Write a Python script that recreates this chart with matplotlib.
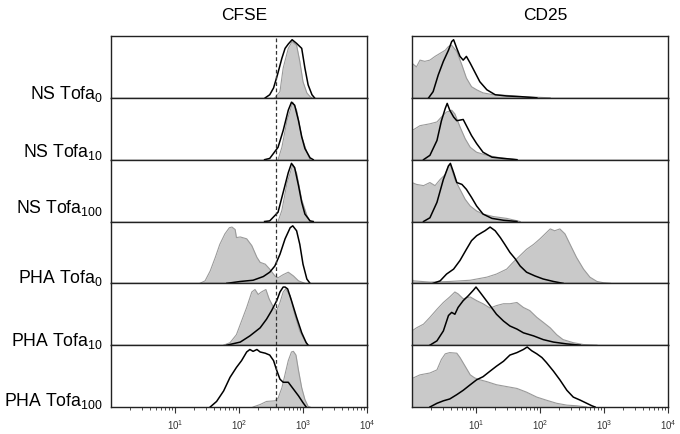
import numpy as np
import matplotlib
matplotlib.use('Agg')
import matplotlib.pyplot as plt
from matplotlib.ticker import LogLocator, NullFormatter, LogFormatterSciNotation

plt.rcParams['font.family'] = ['Liberation Sans', 'DejaVu Sans']
plt.rcParams['mathtext.default'] = 'regular'

# %% data: histogram outlines, x as log10(intensity), h as fraction of row height
row_labels = ['NS Tofa$_{0}$', 'NS Tofa$_{10}$', 'NS Tofa$_{100}$',
              'PHA Tofa$_{0}$', 'PHA Tofa$_{10}$', 'PHA Tofa$_{100}$']
panel_titles = ['CFSE', 'CD25']
tick_values = [10, 100, 1000, 10000]
cfse_gate = 380

cfse_gray_x = [
    [2.56, 2.64, 2.69, 2.77, 2.83, 2.90, 2.95, 3.00, 3.06, 3.11, 3.14],
    [2.61, 2.67, 2.75, 2.84, 2.90, 2.98, 3.06, 3.11],
    [2.61, 2.67, 2.75, 2.84, 2.90, 2.98, 3.06, 3.11],
    [1.39, 1.47, 1.55, 1.63, 1.70, 1.78, 1.85, 1.89, 1.94, 1.96, 2.02, 2.12, 2.20, 2.28,
     2.33, 2.41, 2.48, 2.56, 2.61, 2.69, 2.77, 2.85, 2.93, 3.03],
    [1.76, 1.86, 1.96, 2.04, 2.12, 2.20, 2.25, 2.30, 2.35, 2.42, 2.47, 2.54, 2.59, 2.64,
     2.69, 2.73, 2.80, 2.87, 2.95, 3.03, 3.08],
    [2.22, 2.33, 2.43, 2.56, 2.61, 2.67, 2.72, 2.77, 2.82, 2.85, 2.89, 2.93, 2.98, 3.03, 3.08, 3.11],
]
cfse_gray_h = [
    [0, 0.10, 0.48, 0.80, 0.91, 0.85, 0.59, 0.26, 0.08, 0.02, 0],
    [0, 0.20, 0.63, 0.93, 0.80, 0.37, 0.12, 0],
    [0, 0.18, 0.62, 0.92, 0.78, 0.35, 0.10, 0],
    [0, 0.04, 0.20, 0.42, 0.63, 0.80, 0.90, 0.91, 0.87, 0.74, 0.75, 0.72, 0.61, 0.42,
     0.34, 0.31, 0.23, 0.12, 0.09, 0.14, 0.18, 0.12, 0.04, 0],
    [0, 0.04, 0.17, 0.39, 0.61, 0.86, 0.90, 0.82, 0.86, 0.90, 0.75, 0.61, 0.56, 0.69,
     0.86, 0.91, 0.80, 0.50, 0.23, 0.07, 0],
    [0, 0.04, 0.09, 0.10, 0.14, 0.31, 0.53, 0.75, 0.89, 0.90, 0.84, 0.59, 0.31, 0.12, 0.01, 0],
]
cfse_black_x = [
    [2.41, 2.48, 2.54, 2.60, 2.67, 2.72, 2.77, 2.83, 2.90, 2.98, 3.03, 3.08, 3.14, 3.18],
    [2.40, 2.48, 2.61, 2.69, 2.77, 2.82, 2.87, 2.93, 2.98, 3.03, 3.11, 3.16],
    [2.40, 2.48, 2.61, 2.69, 2.77, 2.82, 2.87, 2.93, 2.98, 3.03, 3.11, 3.16],
    [1.81, 2.02, 2.22, 2.38, 2.48, 2.56, 2.64, 2.72, 2.80, 2.84, 2.90, 2.95, 3.00, 3.06, 3.11],
    [1.81, 2.02, 2.17, 2.33, 2.43, 2.51, 2.59, 2.64, 2.69, 2.72, 2.76, 2.82, 2.90, 2.98, 3.05, 3.08],
    [1.55, 1.65, 1.76, 1.86, 1.96, 2.04, 2.12, 2.17, 2.22, 2.28, 2.33, 2.41, 2.48, 2.54,
     2.59, 2.64, 2.69, 2.77, 2.85, 2.93, 3.00, 3.05],
]
cfse_black_h = [
    [0, 0.05, 0.16, 0.37, 0.64, 0.80, 0.87, 0.94, 0.88, 0.80, 0.48, 0.21, 0.05, 0],
    [0, 0.02, 0.20, 0.47, 0.80, 0.93, 0.88, 0.63, 0.37, 0.18, 0.03, 0],
    [0, 0.01, 0.15, 0.47, 0.79, 0.94, 0.87, 0.58, 0.31, 0.12, 0.01, 0],
    [0, 0.03, 0.05, 0.11, 0.18, 0.28, 0.47, 0.72, 0.90, 0.93, 0.85, 0.63, 0.31, 0.07, 0],
    [0, 0.05, 0.15, 0.28, 0.42, 0.56, 0.72, 0.86, 0.94, 0.94, 0.91, 0.72, 0.45, 0.20, 0.04, 0],
    [0, 0.09, 0.26, 0.48, 0.64, 0.75, 0.89, 0.93, 0.90, 0.93, 0.89, 0.87, 0.84, 0.75,
     0.59, 0.45, 0.40, 0.40, 0.29, 0.18, 0.07, 0],
]

cd25_gray_x = [
    [0.0, 0.07, 0.125, 0.20, 0.28, 0.36, 0.44, 0.52, 0.57, 0.62, 0.70, 0.78, 0.85, 0.93,
     1.01, 1.11, 1.27, 1.48, 1.69, 1.95, 2.16],
    [0.0, 0.125, 0.28, 0.39, 0.46, 0.54, 0.62, 0.67, 0.75, 0.83, 0.91, 1.01, 1.17, 1.38, 1.64],
    [0.0, 0.07, 0.18, 0.28, 0.36, 0.44, 0.52, 0.57, 0.60, 0.67, 0.75, 0.83, 0.91, 1.01,
     1.11, 1.27, 1.48, 1.69],
    [0.0, 0.02, 0.28, 0.59, 0.91, 1.17, 1.32, 1.48, 1.58, 1.69, 1.79, 1.90, 2.00, 2.10,
     2.16, 2.23, 2.31, 2.39, 2.47, 2.57, 2.68, 2.78, 2.89, 2.99, 3.10],
    [0.0, 0.07, 0.18, 0.28, 0.39, 0.49, 0.59, 0.67, 0.72, 0.80, 0.91, 1.01, 1.11, 1.22,
     1.32, 1.43, 1.53, 1.64, 1.74, 1.84, 1.95, 2.05, 2.16, 2.26, 2.36, 2.52, 2.68, 2.89],
    [0.0, 0.02, 0.125, 0.28, 0.39, 0.46, 0.52, 0.59, 0.70, 0.75, 0.83, 0.91, 0.98, 1.06,
     1.17, 1.32, 1.48, 1.64, 1.79, 1.95, 2.10, 2.26, 2.42, 2.57, 2.73],
]
cd25_gray_h = [
    [0.56, 0.50, 0.61, 0.59, 0.61, 0.67, 0.72, 0.77, 0.83, 0.85, 0.75, 0.53, 0.32, 0.18,
     0.13, 0.08, 0.05, 0.04, 0.02, 0.01, 0],
    [0.47, 0.55, 0.58, 0.61, 0.69, 0.77, 0.80, 0.74, 0.53, 0.34, 0.20, 0.12, 0.07, 0.03, 0],
    [0.63, 0.60, 0.58, 0.63, 0.58, 0.68, 0.76, 0.90, 0.92, 0.68, 0.52, 0.36, 0.25, 0.17,
     0.12, 0.08, 0.05, 0],
    [0.07, 0.04, 0.02, 0.03, 0.05, 0.10, 0.15, 0.23, 0.34, 0.45, 0.55, 0.63, 0.72, 0.82,
     0.88, 0.85, 0.88, 0.80, 0.63, 0.42, 0.23, 0.10, 0.03, 0.01, 0],
    [0.23, 0.28, 0.34, 0.45, 0.58, 0.69, 0.78, 0.86, 0.83, 0.75, 0.78, 0.72, 0.67, 0.60,
     0.64, 0.67, 0.67, 0.69, 0.61, 0.56, 0.45, 0.37, 0.28, 0.17, 0.09, 0.04, 0.01, 0],
    [0.47, 0.47, 0.52, 0.55, 0.60, 0.77, 0.86, 0.88, 0.87, 0.80, 0.66, 0.52, 0.47, 0.44,
     0.41, 0.36, 0.33, 0.30, 0.24, 0.16, 0.11, 0.06, 0.03, 0.02, 0],
]
cd25_black_x = [
    [0.26, 0.33, 0.41, 0.49, 0.57, 0.62, 0.65, 0.70, 0.75, 0.80, 0.85, 0.91, 0.98, 1.06,
     1.17, 1.30, 1.48, 1.69, 1.95],
    [0.18, 0.28, 0.39, 0.46, 0.52, 0.55, 0.59, 0.65, 0.70, 0.80, 0.85, 0.93, 1.01, 1.11,
     1.25, 1.43, 1.64],
    [0.18, 0.28, 0.39, 0.49, 0.57, 0.60, 0.65, 0.70, 0.78, 0.85, 0.93, 1.01, 1.11, 1.25, 1.43, 1.64],
    [0.33, 0.44, 0.54, 0.65, 0.75, 0.85, 0.93, 1.01, 1.09, 1.14, 1.22, 1.30, 1.38, 1.45,
     1.53, 1.61, 1.69, 1.79, 1.92, 2.05, 2.21, 2.36],
    [0.28, 0.39, 0.49, 0.57, 0.62, 0.67, 0.72, 0.80, 0.88, 0.96, 1.00, 1.06, 1.14, 1.22,
     1.32, 1.43, 1.53, 1.64, 1.74, 1.90, 2.05, 2.21, 2.42, 2.63],
    [0.28, 0.39, 0.49, 0.59, 0.70, 0.80, 0.91, 1.01, 1.11, 1.22, 1.32, 1.43, 1.53, 1.64,
     1.74, 1.80, 1.87, 1.95, 2.03, 2.10, 2.21, 2.31, 2.42, 2.52, 2.63, 2.73, 2.81, 2.86],
]
cd25_black_h = [
    [0, 0.10, 0.37, 0.59, 0.77, 0.91, 0.94, 0.80, 0.67, 0.61, 0.67, 0.56, 0.42, 0.26,
     0.13, 0.05, 0.03, 0.02, 0],
    [0, 0.07, 0.31, 0.63, 0.83, 0.91, 0.80, 0.69, 0.63, 0.65, 0.55, 0.39, 0.26, 0.12,
     0.04, 0.02, 0],
    [0, 0.06, 0.31, 0.68, 0.90, 0.94, 0.79, 0.63, 0.60, 0.52, 0.39, 0.25, 0.12, 0.05, 0.02, 0],
    [0, 0.04, 0.15, 0.23, 0.37, 0.55, 0.69, 0.77, 0.82, 0.85, 0.91, 0.85, 0.74, 0.63,
     0.50, 0.40, 0.28, 0.18, 0.12, 0.07, 0.03, 0],
    [0, 0.07, 0.23, 0.48, 0.53, 0.50, 0.61, 0.72, 0.80, 0.89, 0.94, 0.86, 0.75, 0.64,
     0.50, 0.39, 0.31, 0.26, 0.20, 0.15, 0.09, 0.05, 0.02, 0],
    [0, 0.06, 0.10, 0.13, 0.20, 0.27, 0.36, 0.44, 0.49, 0.58, 0.66, 0.74, 0.84, 0.88,
     0.93, 0.97, 0.91, 0.86, 0.80, 0.72, 0.58, 0.44, 0.27, 0.16, 0.11, 0.06, 0.02, 0],
]

# %% layout (pixels of a 680x435 figure)
W, H = 680, 435
fig = plt.figure(figsize=(6.8, 4.35), dpi=100)
panel_left = [111, 412]
panel_width = 256
top, bottom = 37, 408
n = len(row_labels)
row_h = (bottom - top) / n
label_baseline = [99, 157, 213, 283, 346, 406]

panels = [(cfse_gray_x, cfse_gray_h, cfse_black_x, cfse_black_h),
          (cd25_gray_x, cd25_gray_h, cd25_black_x, cd25_black_h)]

for p, (gx, gh, bx, bh) in enumerate(panels):
    for i in range(n):
        ax = fig.add_axes([panel_left[p] / W, 1 - (top + (i + 1) * row_h) / H,
                           panel_width / W, row_h / H])
        ax.set_xscale('log')
        ax.set_xlim(1, 1e4)
        ax.set_ylim(0, 1)
        x = 10 ** np.array(gx[i])
        ax.fill_between(x, gh[i], 0, color='#c9c9c9', lw=0, zorder=1)
        ax.plot(x, gh[i], color='#9a9a9a', lw=0.8, zorder=2)
        ax.plot(10 ** np.array(bx[i]), bh[i], color='black', lw=1.1, zorder=3)
        if p == 0:
            ax.axvline(cfse_gate, color='#333333', lw=0.9, ls=(0, (3, 2)), zorder=4)
        for s in ax.spines.values():
            s.set_linewidth(1.0)
            s.set_color('#222222')
        ax.set_yticks([])
        if i < n - 1:
            ax.tick_params(axis='x', which='both', bottom=False, labelbottom=False)
        else:
            ax.set_xticks(tick_values)
            ax.xaxis.set_major_formatter(LogFormatterSciNotation())
            ax.xaxis.set_minor_locator(LogLocator(base=10, subs=np.arange(2, 10), numticks=20))
            ax.xaxis.set_minor_formatter(NullFormatter())
            ax.tick_params(axis='x', which='major', length=4, width=0.8, labelsize=7, pad=3,
                           colors='#333333')
            ax.tick_params(axis='x', which='minor', length=2.5, width=0.6, colors='#333333')
        if p == 0:
            fig.text(103 / W, 1 - label_baseline[i] / H, row_labels[i],
                     ha='right', va='baseline', fontsize=12.7)

for p, t in enumerate(panel_titles):
    fig.text((panel_left[p] + panel_width / 2 + 5) / W, 1 - 15 / H, t,
             ha='center', va='center', fontsize=12.5)

plt.savefig('out.png', dpi=100)
